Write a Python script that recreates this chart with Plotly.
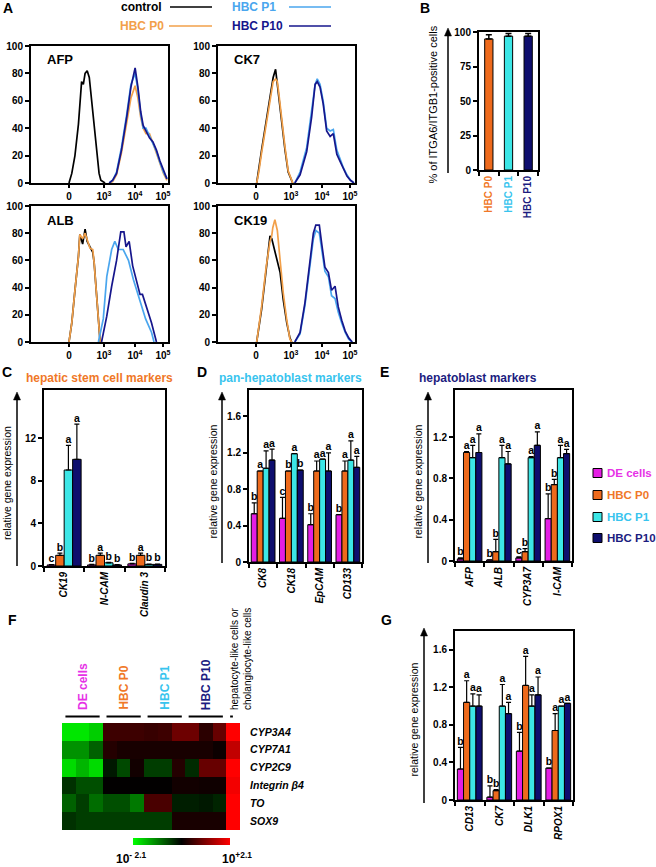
import plotly.graph_objects as go

FONT = "Arial, Liberation Sans, sans-serif"
W, H = 656, 867

# ---------------- A: flow cytometry histograms ----------------
# x is in display units: 0 -> "0", 1 -> 10^3, 1.886 -> 10^4, 2.686 -> 10^5
hist_tickvals = [0, 1, 1.886, 2.686]
hist_ticktext = ["<b>0</b>", "<b>10<sup>3</sup></b>", "<b>10<sup>4</sup></b>", "<b>10<sup>5</sup></b>"]

afp_neg_x = [0, 0.08, 0.17, 0.27, 0.36, 0.41, 0.46, 0.52, 0.58, 0.65, 0.72, 0.79, 0.86, 0.91, 1.03]
afp_ctrl_y = [0, 7, 20, 43, 74, 72, 80, 82, 77, 60, 41, 21, 7, 2, 0]
afp_pos_x = [1.15, 1.25, 1.36, 1.5, 1.65, 1.77, 1.89, 1.97, 2.05, 2.12, 2.2, 2.3, 2.4, 2.5, 2.6, 2.7, 2.8]
afp_p0_y = [0, 1, 6, 22, 44, 62, 71, 62, 48, 40, 36, 36, 29, 22, 14, 7, 2]
afp_p1_y = [0, 2, 8, 26, 50, 72, 80, 68, 50, 40, 40, 34, 29, 23, 15, 8, 3]
afp_p10_y = [0, 2, 7, 24, 48, 70, 84, 70, 52, 42, 38, 33, 30, 24, 16, 9, 3]

ck7_neg_x = [0.02, 0.08, 0.16, 0.31, 0.42, 0.49, 0.56, 0.61, 0.65, 0.73, 0.83, 0.92, 1.05]
ck7_ctrl_y = [0, 9, 24, 48, 68, 77, 83, 72, 62, 43, 24, 8, 0]
ck7_p0_y = [0, 8, 22, 46, 66, 74, 76, 74, 66, 46, 26, 9, 0]
ck7_pos_x = [1.11, 1.26, 1.45, 1.59, 1.69, 1.75, 1.83, 1.92, 2.02, 2.12, 2.21, 2.31, 2.4, 2.5, 2.6, 2.7, 2.8]
ck7_p1_y = [0, 8, 26, 52, 72, 76, 72, 60, 40, 38, 39, 24, 18, 11, 6, 2, 0]
ck7_p10_y = [0, 6, 23, 48, 72, 74, 70, 58, 38, 34, 36, 21, 16, 10, 5, 2, 0]

alb_neg_x = [0, 0.08, 0.17, 0.27, 0.31, 0.39, 0.46, 0.52, 0.6, 0.68, 0.72, 0.79, 0.85, 0.89]
alb_ctrl_y = [0, 14, 38, 63, 79, 72, 83, 74, 70, 66, 58, 34, 12, 0]
alb_p0_y = [0, 14, 38, 63, 79, 76, 80, 75, 69, 68, 58, 34, 12, 0]
alb_p1_x = [0.84, 0.98, 1.08, 1.22, 1.31, 1.41, 1.55, 1.7, 1.84, 1.98, 2.08, 2.19, 2.36, 2.43]
alb_p1_y = [0, 17, 48, 68, 74, 68, 68, 60, 46, 34, 26, 17, 7, 0]
alb_p10_x = [0.93, 1.08, 1.22, 1.36, 1.48, 1.57, 1.63, 1.72, 1.82, 1.93, 2.03, 2.1, 2.22, 2.36, 2.5]
alb_p10_y = [0, 19, 41, 60, 81, 81, 70, 74, 56, 46, 35, 35, 26, 14, 0]

ck19_neg_x = [0.02, 0.16, 0.29, 0.4, 0.45, 0.48, 0.54, 0.59, 0.61, 0.69, 0.78, 0.88, 0.97, 1.02]
ck19_ctrl_y = [0, 24, 53, 78, 76, 73, 66, 62, 60, 51, 31, 14, 3, 0]
ck19_p0_y = [0, 26, 55, 74, 78, 84, 90, 85, 82, 60, 36, 16, 2, 0]
ck19_pos_x = [1.11, 1.26, 1.4, 1.54, 1.64, 1.71, 1.81, 1.88, 1.97, 2.07, 2.16, 2.26, 2.35, 2.45, 2.55, 2.65, 2.75]
ck19_p1_y = [0, 6, 27, 56, 76, 82, 80, 68, 52, 48, 34, 32, 22, 14, 7, 2, 0]
ck19_p10_y = [0, 7, 29, 60, 80, 86, 86, 72, 55, 51, 38, 41, 26, 16, 8, 3, 0]

# ---------------- B ----------------
b_groups = ["HBC P0", "HBC P1", "HBC P10"]
b_vals = [95, 97, 97]
b_errs = [3, 2, 2]

# ---------------- C, D, E, G: qPCR (rows: DE cells, HBC P0, HBC P1, HBC P10) ----------------
series = ["DE cells", "HBC P0", "HBC P1", "HBC P10"]

c_genes = ["CK19", "N-CAM", "Claudin 3"]
c_vals = [[0.1, 0.1, 0.2], [1.0, 1.0, 1.0], [9.0, 0.3, 0.15], [10.0, 0.1, 0.15]]
c_errs = [[0.03, 0.05, 0.05], [0.2, 0.2, 0.2], [2.3, 0.05, 0.03], [3.3, 0.02, 0.03]]
c_sig = [["c", "b", "b"], ["b", "a", "a"], ["a", "b", "b"], ["a", "b", "b"]]

d_genes = ["CK8", "CK18", "EpCAM", "CD133"]
d_vals = [[0.53, 0.48, 0.41, 0.52], [1.0, 1.0, 1.0, 1.0], [1.03, 1.19, 1.13, 1.12], [1.12, 1.01, 1.0, 1.04]]
d_errs = [[0.12, 0.23, 0.12, 0.0], [0.0, 0.0, 0.11, 0.11], [0.19, 0.0, 0.0, 0.21], [0.12, 0.0, 0.2, 0.12]]
d_sig = [["b", "c", "b", "b"], ["a", "b", "a", "a"], ["a", "a", "a", "a"], ["a", "b", "a", "a"]]

e_genes = ["AFP", "ALB", "CYP3A7", "I-CAM"]
e_vals = [[0.02, 0.01, 0.03, 0.41], [1.05, 0.09, 0.09, 0.74], [1.0, 1.0, 1.0, 1.0], [1.05, 0.94, 1.12, 1.04]]
e_errs = [[0.01, 0.0, 0.01, 0.24], [0.01, 0.12, 0.03, 0.05], [0.12, 0.12, 0.01, 0.12], [0.18, 0.12, 0.13, 0.04]]
e_sig = [["b", "b", "c", "b"], ["a", "b", "b", "b"], ["a", "a", "a", "a"], ["a", "a", "a", "a"]]

g_genes = ["CD13", "CK7", "DLK1", "RPOX1"]
g_vals = [[0.33, 0.03, 0.52, 0.34], [1.04, 0.1, 1.22, 0.74], [1.0, 1.0, 1.0, 1.0], [1.0, 0.92, 1.12, 1.03]]
g_errs = [[0.23, 0.12, 0.2, 0.0], [0.23, 0.01, 0.31, 0.18], [0.13, 0.23, 0.12, 0.0], [0.12, 0.12, 0.19, 0.0]]
g_sig = [["b", "b", "b", "b"], ["a", "b", "a", "a"], ["a", "a", "a", "a"], ["a", "a", "a", "a"]]

# ---------------- F: heatmap (log10 fold, 13 columns) ----------------
heat_genes = ["CYP3A4", "CYP7A1", "CYP2C9", "Integrin β4", "TO", "SOX9"]
cyp3a4 = [-1.9, -1.9, -1.7, 0.5, 0.5, 0.5, 0.45, 0.5, 0.9, 0.9, 0.35, 0.85, 2.1]
cyp7a1 = [-1.2, -1.2, -0.8, 0.3, 0.2, 0.2, 0.2, 0.2, 0.2, 0.2, 0.2, 0.1, 1.6]
cyp2c9 = [-1.8, -1.5, -1.8, -0.2, -0.6, 0.15, -0.5, -0.5, 0.3, -0.35, 0.85, 0.85, 2.1]
itgb4 = [-0.4, -0.65, -0.65, 0.02, 0.02, 0.02, 0.02, 0.02, 0.15, 0.15, 0.12, 0.12, 2.0]
to_row = [-0.8, -0.5, -0.9, -0.65, -0.65, -1.0, 0.6, 0.6, -0.25, -0.25, -0.2, -0.3, 2.1]
sox9 = [-0.4, -0.5, -0.5, -0.5, -0.5, -0.5, -0.5, -0.5, 0.2, 0.2, 0.2, 0.2, 2.1]
heat_scale_labels = ["10<sup>- 2.1</sup>", "10<sup>+2.1</sup>"]

C_CTRL, C_HP0, C_HP1, C_HP10 = "black", "#F2A04A", "#4AA6EE", "#16168C"
bar_colors = ["#E41EE4", "#EE6A1C", "#3CE6E6", "#0E0E6E"]
text_colors = ["#E632E6", "#F07828", "#38C4EE", "#1C1C80"]


def xd(a, b):
    return [a / W, b / W]


def yd(top, bottom):
    return [1 - bottom / H, 1 - top / H]


def px(x):
    return x / W


def py(y):
    return 1 - y / H


def axn(n):
    return "" if n == 1 else str(n)


fig = go.Figure()
annotations = []
shapes = []

tickfont = dict(family=FONT, size=10, color="black", weight="bold")
frame = dict(showline=True, linecolor="black", linewidth=2, mirror=True, showgrid=False,
             zeroline=False, ticks="outside", tickcolor="black", tickwidth=1.5, ticklen=4,
             tickfont=tickfont)

# ----- A -----
hist_panels = [
    ("AFP", (31, 168, 46, 183), [(afp_neg_x, afp_ctrl_y, C_CTRL), (afp_pos_x, afp_p0_y, C_HP0),
                                 (afp_pos_x, afp_p1_y, C_HP1), (afp_pos_x, afp_p10_y, C_HP10)]),
    ("CK7", (218, 355, 46, 183), [(ck7_neg_x, ck7_ctrl_y, C_CTRL), (ck7_neg_x, ck7_p0_y, C_HP0),
                                  (ck7_pos_x, ck7_p1_y, C_HP1), (ck7_pos_x, ck7_p10_y, C_HP10)]),
    ("ALB", (31, 168, 206, 342), [(alb_neg_x, alb_ctrl_y, C_CTRL), (alb_neg_x, alb_p0_y, C_HP0),
                                  (alb_p1_x, alb_p1_y, C_HP1), (alb_p10_x, alb_p10_y, C_HP10)]),
    ("CK19", (218, 355, 206, 342), [(ck19_neg_x, ck19_ctrl_y, C_CTRL), (ck19_neg_x, ck19_p0_y, C_HP0),
                                    (ck19_pos_x, ck19_p1_y, C_HP1), (ck19_pos_x, ck19_p10_y, C_HP10)]),
]
for i, (name, (x0, x1, y0, y1), curves) in enumerate(hist_panels):
    n = i + 1
    for cx, cy, col in curves:
        fig.add_trace(go.Scatter(x=cx, y=cy, mode="lines", line=dict(color=col, width=1.7),
                                 xaxis="x" + axn(n), yaxis="y" + axn(n), showlegend=False,
                                 hoverinfo="skip"))
    fig.update_layout(**{
        "xaxis" + axn(n): dict(frame, domain=xd(x0, x1), anchor="y" + axn(n), range=[-1.086, 2.83],
                               tickvals=hist_tickvals, ticktext=hist_ticktext, ticklen=3),
        "yaxis" + axn(n): dict(frame, domain=yd(y0, y1), anchor="x" + axn(n), range=[0, 100],
                               tickvals=[0, 20, 40, 60, 80, 100]),
    })
    annotations.append(dict(text="<b>%s</b>" % name, x=px(x0 + 14), y=py(y0 + 14), xref="paper",
                            yref="paper", xanchor="left", yanchor="middle", showarrow=False,
                            font=dict(family=FONT, size=13, color="black")))

# top legend of A
for label, col, tx, ty, lx0, lx1, anchor in [
        ("control", C_CTRL, 164, 7, 170, 212, "right"),
        ("HBC P0", C_HP0, 166, 26, 169, 212, "right"),
        ("HBC P1", C_HP1, 230, 7, 289, 331, "left"),
        ("HBC P10", C_HP10, 230, 26, 289, 331, "left")]:
    annotations.append(dict(text="<b>%s</b>" % label, x=px(tx), y=py(ty), xref="paper", yref="paper",
                            xanchor=anchor, yanchor="middle", showarrow=False,
                            font=dict(family=FONT, size=12, color=col)))
    shapes.append(dict(type="line", xref="paper", yref="paper", x0=px(lx0), x1=px(lx1),
                       y0=py(ty), y1=py(ty), line=dict(color=col, width=1.6)))

# ----- B -----
fig.add_trace(go.Bar(x=[0, 1, 2], y=b_vals, width=0.42, marker=dict(color=bar_colors[1:], line=dict(color="black", width=1)),
                     error_y=dict(type="data", array=b_errs, arrayminus=[0, 0, 0], symmetric=False,
                                  color="black", thickness=1.5, width=3),
                     xaxis="x5", yaxis="y5", showlegend=False, hoverinfo="skip"))
fig.update_layout(
    xaxis5=dict(frame, domain=xd(479, 538), anchor="y5", range=[-0.5, 2.5], tickvals=[0, 1, 2],
                ticktext=["<span style='color:%s'>%s</span>" % (c, g) for c, g in zip(text_colors[1:], b_groups)],
                tickangle=-90, ticklen=0,
                minor=dict(tickvals=[-0.5, 0.5, 1.5, 2.5], ticks="outside", ticklen=4, tickcolor="black", tickwidth=1.5)),
    yaxis5=dict(frame, domain=yd(32, 170), anchor="x5", range=[0, 100], tickvals=[0, 25, 50, 75, 100]),
)

# ----- C, D, E, G -----
bw = 0.21
offsets = [-1.5 * bw, -0.5 * bw, 0.5 * bw, 1.5 * bw]
bar_panels = [
    (6, c_genes, c_vals, c_errs, c_sig, (44, 165, 390, 566), 16.5, [0, 4, 8, 12]),
    (7, d_genes, d_vals, d_errs, d_sig, (249, 362, 390, 562), 1.89, [0, 0.4, 0.8, 1.2, 1.6]),
    (8, e_genes, e_vals, e_errs, e_sig, (455, 572, 390, 561), 1.655, [0, 0.4, 0.8, 1.2]),
    (10, g_genes, g_vals, g_errs, g_sig, (455, 573, 631, 800), 1.8, [0, 0.4, 0.8, 1.2, 1.6]),
]
for n, genes, vals, errs, sig, (x0, x1, y0, y1), ymax, ytk in bar_panels:
    k = len(genes)
    for s in range(4):
        xs = [g + offsets[s] for g in range(k)]
        fig.add_trace(go.Bar(x=xs, y=vals[s], width=bw, name=series[s],
                             marker=dict(color=bar_colors[s], line=dict(color="black", width=1)),
                             error_y=dict(type="data", array=errs[s], arrayminus=[0] * k, symmetric=False,
                                          color="black", thickness=1.2, width=2.5),
                             xaxis="x%d" % n, yaxis="y%d" % n, showlegend=False, hoverinfo="skip"))
        fig.add_trace(go.Scatter(x=xs, y=[v + e for v, e in zip(vals[s], errs[s])], mode="text",
                                 text=sig[s], textposition="top center",
                                 textfont=dict(family=FONT, size=10.5, color="black", weight="bold"),
                                 cliponaxis=False, xaxis="x%d" % n, yaxis="y%d" % n,
                                 showlegend=False, hoverinfo="skip"))
    fig.update_layout(**{
        "xaxis%d" % n: dict(frame, domain=xd(x0, x1), anchor="y%d" % n, range=[-0.5, k - 0.5],
                            tickvals=list(range(k)), ticktext=["<i>%s</i>" % g for g in genes],
                            tickangle=-90, ticklen=0,
                            minor=dict(tickvals=[j - 0.5 for j in range(k + 1)], ticks="outside",
                                       ticklen=4, tickcolor="black", tickwidth=1.5)),
        "yaxis%d" % n: dict(frame, domain=yd(y0, y1), anchor="x%d" % n, range=[0, ymax], tickvals=ytk),
    })

fig.update_layout(barmode="overlay")

# y titles with arrows (line + filled head)
for title, tx, ax_x, top, bottom, fs in [
        ("% of ITGA6/ITGB1-positive cells", 432, 448, 28, 173, 11),
        ("relative gene expression", 7, 17, 392, 566, 10.5),
        ("relative gene expression", 213, 222, 392, 563, 10.5),
        ("relative gene expression", 418, 428, 392, 563, 10.5),
        ("relative gene expression", 413, 424, 628, 803, 10.5)]:
    annotations.append(dict(text=title, x=px(tx), y=py((top + bottom) / 2 + 4), xref="paper", yref="paper",
                            textangle=-90, showarrow=False, xanchor="center", yanchor="middle",
                            font=dict(family=FONT, size=fs, color="black")))
    shapes.append(dict(type="line", xref="paper", yref="paper", x0=px(ax_x), x1=px(ax_x),
                       y0=py(bottom), y1=py(top + 6), line=dict(color="black", width=1.5)))
    shapes.append(dict(type="path", xref="paper", yref="paper",
                       path="M %f %f L %f %f L %f %f Z" % (px(ax_x - 3.5), py(top + 8), px(ax_x), py(top),
                                                           px(ax_x + 3.5), py(top + 8)),
                       fillcolor="black", line=dict(color="black", width=0.5)))

# E legend
for s, yy in enumerate([473, 495, 517, 538]):
    shapes.append(dict(type="rect", xref="paper", yref="paper", x0=px(593), x1=px(602),
                       y0=py(yy + 4.5), y1=py(yy - 4.5), fillcolor=bar_colors[s], line=dict(color="black", width=1)))
    annotations.append(dict(text="<b>%s</b>" % series[s], x=px(605), y=py(yy), xref="paper", yref="paper",
                            xanchor="left", yanchor="middle", showarrow=False,
                            font=dict(family=FONT, size=11.5, color=text_colors[s])))

# panel titles
for title, cx, col in [("hepatic stem cell markers", 99, text_colors[1]),
                       ("pan-hepatoblast markers", 290, text_colors[2]),
                       ("hepatoblast markers", 478, text_colors[3])]:
    annotations.append(dict(text="<b>%s</b>" % title, x=px(cx), y=py(378), xref="paper", yref="paper",
                            xanchor="center", yanchor="middle", showarrow=False,
                            font=dict(family=FONT, size=12, color=col)))

# panel letters
for letter, lx, ly in [("A", 8, 8), ("B", 425, 8), ("C", 7, 372), ("D", 202, 372), ("E", 384, 372),
                       ("F", 12, 620), ("G", 386, 620)]:
    annotations.append(dict(text="<b>%s</b>" % letter, x=px(lx), y=py(ly), xref="paper", yref="paper",
                            xanchor="center", yanchor="middle", showarrow=False,
                            font=dict(family=FONT, size=14, color="black")))

# ----- F heatmap -----
fig.add_trace(go.Heatmap(
    z=[cyp3a4, cyp7a1, cyp2c9, itgb4, to_row, sox9], x=list(range(13)), y=heat_genes,
    zmin=-2.1, zmax=2.1, colorscale=[[0, "#00FF00"], [0.5, "#000000"], [1, "#FF0000"]],
    xaxis="x9", yaxis="y9", hoverinfo="skip",
    colorbar=dict(orientation="h", x=px(133), xanchor="left", y=py(845), yanchor="bottom",
                  len=97 / W, lenmode="fraction", thickness=7, outlinewidth=0, xpad=0, ypad=0,
                  showticklabels=False, ticks=""),
))
for lbl, lx in zip(heat_scale_labels, [131, 237]):
    annotations.append(dict(text="<b>%s</b>" % lbl, x=px(lx), y=py(858), xref="paper", yref="paper",
                            xanchor="center", yanchor="middle", showarrow=False,
                            font=dict(family=FONT, size=12, color="black")))
fig.update_layout(
    xaxis9=dict(domain=xd(62, 240), anchor="y9", range=[-0.5, 12.5], visible=False),
    yaxis9=dict(domain=yd(723, 830), anchor="x9", autorange="reversed", side="right", showgrid=False,
                zeroline=False, showline=False, ticks="outside", ticklen=7, tickcolor="rgba(0,0,0,0)",
                tickfont=dict(family=FONT, size=10.5, color="black", weight="bold", style="italic")),
)
for g, (lbl, col) in enumerate(zip(series, text_colors)):
    shapes.append(dict(type="line", xref="x9", yref="paper", x0=3 * g - 0.25, x1=3 * g + 2.25,
                       y0=py(716.5), y1=py(716.5), line=dict(color="black", width=2)))
    annotations.append(dict(text="<b>%s</b>" % lbl, x=3 * g + 1, y=py(712), xref="x9", yref="paper",
                            textangle=-90, xanchor="center", yanchor="bottom", showarrow=False,
                            font=dict(family=FONT, size=12, color=col)))
shapes.append(dict(type="line", xref="x9", yref="paper", x0=11.78, x1=11.98,
                   y0=py(716.5), y1=py(716.5), line=dict(color="black", width=2)))
annotations.append(dict(text="hepatocyte-like cells or<br>cholangiocyte-like cells", x=px(241), y=py(712),
                        xref="paper", yref="paper", textangle=-90, xanchor="center", yanchor="bottom",
                        showarrow=False, align="left",
                        font=dict(family=FONT, size=10, color="black")))

fig.update_layout(
    width=W, height=H, autosize=False, margin=dict(l=0, r=0, t=0, b=0, autoexpand=False),
    paper_bgcolor="white", plot_bgcolor="white",
    font=dict(family=FONT, color="black"),
    annotations=annotations, shapes=shapes,
)

fig.write_html("out.html", config={"displayModeBar": False},
               post_script="document.body.style.margin='0';document.body.style.overflow='hidden';")
